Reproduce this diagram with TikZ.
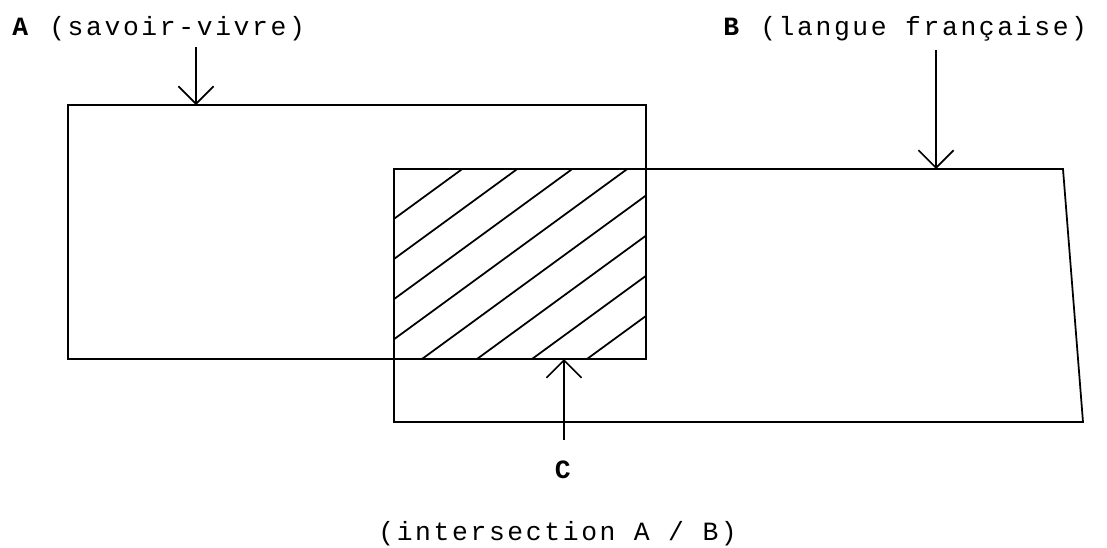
\documentclass[tikz,border=0pt]{standalone}
\usepackage{fontspec}
\setmonofont[LetterSpace=10]{Liberation Mono}
\usetikzlibrary{arrows.meta, positioning}

\begin{document}
\begin{tikzpicture}[x=0.02cm, y=-0.02cm,
    every node/.style={font=\ttfamily\fontsize{15}{18}\selectfont},
    set line/.style={line width=1pt},
    pointer/.style={line width=1pt, -{Straight Barb[length=10pt, width=20pt, line width=1pt]}},
    label text/.style={inner sep=0pt, anchor=base west}]
    \useasboundingbox (0,0) rectangle (1107,548);

    % the two sets
    \draw[set line] (68,105) rectangle (646,359);
    \draw[set line] (394,169) -- (1063,169) -- (1083,422) -- (394,422) -- cycle;

    % hatched common part
    \begin{scope}
        \clip (394,169) rectangle (646,359);
        \foreach \x in {202,257,...,587}
            \draw[set line] (\x,359) -- ++(300,-219);
    \end{scope}

    \node[label text] (nameA) at (12,35) {\textbf{A} (savoir-vivre)};
    \node[label text] (nameB) at (723,35) {\textbf{B} (langue française)};
    \node[inner sep=0pt, anchor=base] (nameC) at (564,478) {\textbf{C}};
    \node[label text] (inter) at (378,540) {(intersection A / B)};

    \coordinate (tailA) at (196,47);
    \coordinate (hitA) at (196,105);
    \coordinate (tailB) at (936,50);
    \coordinate (hitB) at (936,169);
    \coordinate (tailC) at (564,440);
    \coordinate (hitC) at (564,359);

    \draw[pointer] (tailA) -- (hitA);
    \draw[pointer] (tailB) -- (hitB);
    \draw[pointer] (tailC) -- (hitC);
\end{tikzpicture}
\end{document}
